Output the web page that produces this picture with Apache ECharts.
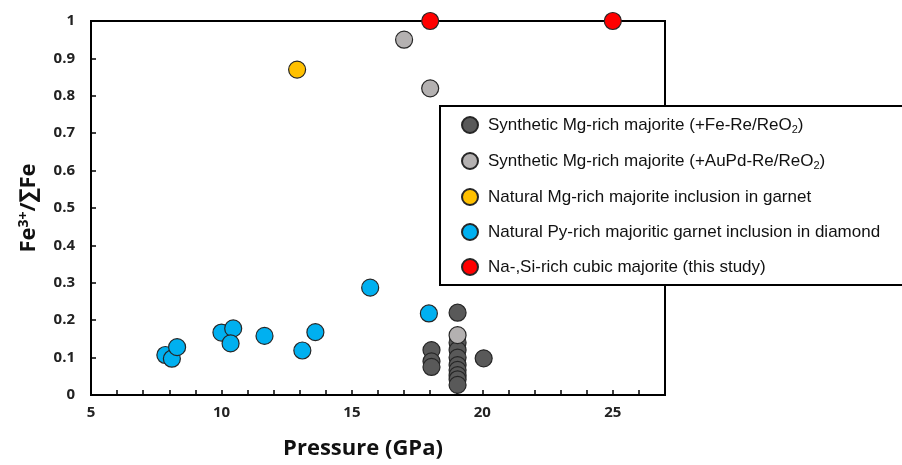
<!DOCTYPE html>
<html><head><meta charset="utf-8">
<script src="https://cdn.jsdelivr.net/npm/echarts@6/dist/echarts.min.js"></script>
<style>html,body{margin:0;padding:0;background:#fff}#c{width:902px;height:465px}</style>
</head><body><div id="c"></div>
<script>
const seriesNames = [
  'Synthetic Mg-rich majorite (+Fe-Re/ReO2)',
  'Synthetic Mg-rich majorite (+AuPd-Re/ReO2)',
  'Natural Mg-rich majorite inclusion in garnet',
  'Natural Py-rich majoritic garnet inclusion in diamond',
  'Na-,Si-rich cubic majorite (this study)'
];
const syntheticFeRe = [[19.05,0.22],[18.05,0.12],[18.05,0.09],[18.05,0.075],[20.05,0.098],
  [19.05,0.14],[19.05,0.12],[19.05,0.10],[19.05,0.08],[19.05,0.067],[19.05,0.053],[19.05,0.042],[19.05,0.027]];
const syntheticAuPd = [[17.0,0.95],[18.0,0.82],[19.05,0.16]];
const naturalGarnet = [[12.9,0.87]];
const naturalDiamond = [[7.85,0.107],[8.1,0.097],[8.3,0.128],[10.0,0.167],[10.45,0.178],[10.35,0.138],
  [11.65,0.158],[13.1,0.119],[13.6,0.168],[15.7,0.287],[17.95,0.218]];
const thisStudy = [[18.0,1.0],[25.0,1.0]];
const colors = ['#595959','#b4b1b1','#ffc000','#00b0f0','#ff0000'];
const xTicks = {min:5, max:27, step:1, labelEvery:5};
const yTicks = {min:0, max:1, step:0.1};

const legendLabels = {
  [seriesNames[0]]: 'Synthetic Mg-rich majorite (+Fe-Re/ReO{sub|2})',
  [seriesNames[1]]: 'Synthetic Mg-rich majorite (+AuPd-Re/ReO{sub|2})',
  [seriesNames[2]]: 'Natural Mg-rich majorite inclusion in garnet',
  [seriesNames[3]]: 'Natural Py-rich majoritic garnet inclusion in diamond',
  [seriesNames[4]]: 'Na-,Si-rich cubic majorite (this study)'
};
const datasets = [syntheticFeRe, syntheticAuPd, naturalGarnet, naturalDiamond, thisStudy];

const chart = echarts.init(document.getElementById('c'), null, {renderer:'canvas'});
chart.setOption({
  animation:false,
  backgroundColor:'#fff',
  grid:{left:91, right:237, top:21, bottom:70, show:true, borderColor:'#000', borderWidth:2, backgroundColor:'transparent'},
  xAxis:{
    type:'value', min:xTicks.min, max:xTicks.max, interval:xTicks.step,
    axisLine:{lineStyle:{color:'#000', width:2}},
    axisTick:{inside:true, length:5, lineStyle:{color:'#000', width:1.5}},
    splitLine:{show:false},
    axisLabel:{margin:10, fontFamily:'Open Sans', fontWeight:'bold', fontSize:15, color:'#222',
      formatter: v => (Math.round(v) % xTicks.labelEvery === 0 && v < xTicks.max) ? String(Math.round(v)) : ''},
    name:'Pressure (GPa)', nameLocation:'middle', nameGap:43,
    nameTextStyle:{fontFamily:'Open Sans', fontWeight:'bold', fontSize:22, color:'#111', padding:[0,30,0,0]}
  },
  yAxis:{
    type:'value', min:yTicks.min, max:yTicks.max, interval:yTicks.step,
    axisLine:{lineStyle:{color:'#000', width:2}},
    axisTick:{inside:true, length:5, lineStyle:{color:'#000', width:1.5}},
    splitLine:{show:false},
    axisLabel:{margin:16, fontFamily:'Open Sans', fontWeight:'bold', fontSize:15, color:'#222',
      formatter: v => String(Math.round(v*10)/10)},
    name:'Fe{sup|3+}/∑Fe', nameLocation:'middle', nameGap:50, nameRotate:90,
    nameTextStyle:{fontFamily:'Open Sans', fontWeight:'bold', fontSize:22, color:'#111',
      rich:{sup:{fontFamily:'Open Sans', fontWeight:'bold', fontSize:14, color:'#111', padding:[0,0,10,0]}}}
  },
  legend:{
    orient:'vertical', left:440, top:106,
    data: seriesNames,
    icon:'circle', itemWidth:16, itemHeight:16, itemGap:17,
    backgroundColor:'#fff', borderColor:'#000', borderWidth:2,
    padding:[10, 100, 9, 21],
    z: 10,
    formatter: n => legendLabels[n],
    textStyle:{fontFamily:'Liberation Sans', fontSize:17, color:'#111', padding:[0,0,0,5],
      rich:{sub:{fontFamily:'Liberation Sans', fontSize:11, color:'#111', padding:[9,0,0,0]}}}
  },
  series: datasets.map((d,i)=>({
    name: seriesNames[i], type:'scatter', data:d, symbol:'circle', symbolSize:17, clip:false,
    itemStyle:{color:colors[i], borderColor:'#262626', borderWidth:1.2, opacity:1}
  }))
});
</script></body></html>
